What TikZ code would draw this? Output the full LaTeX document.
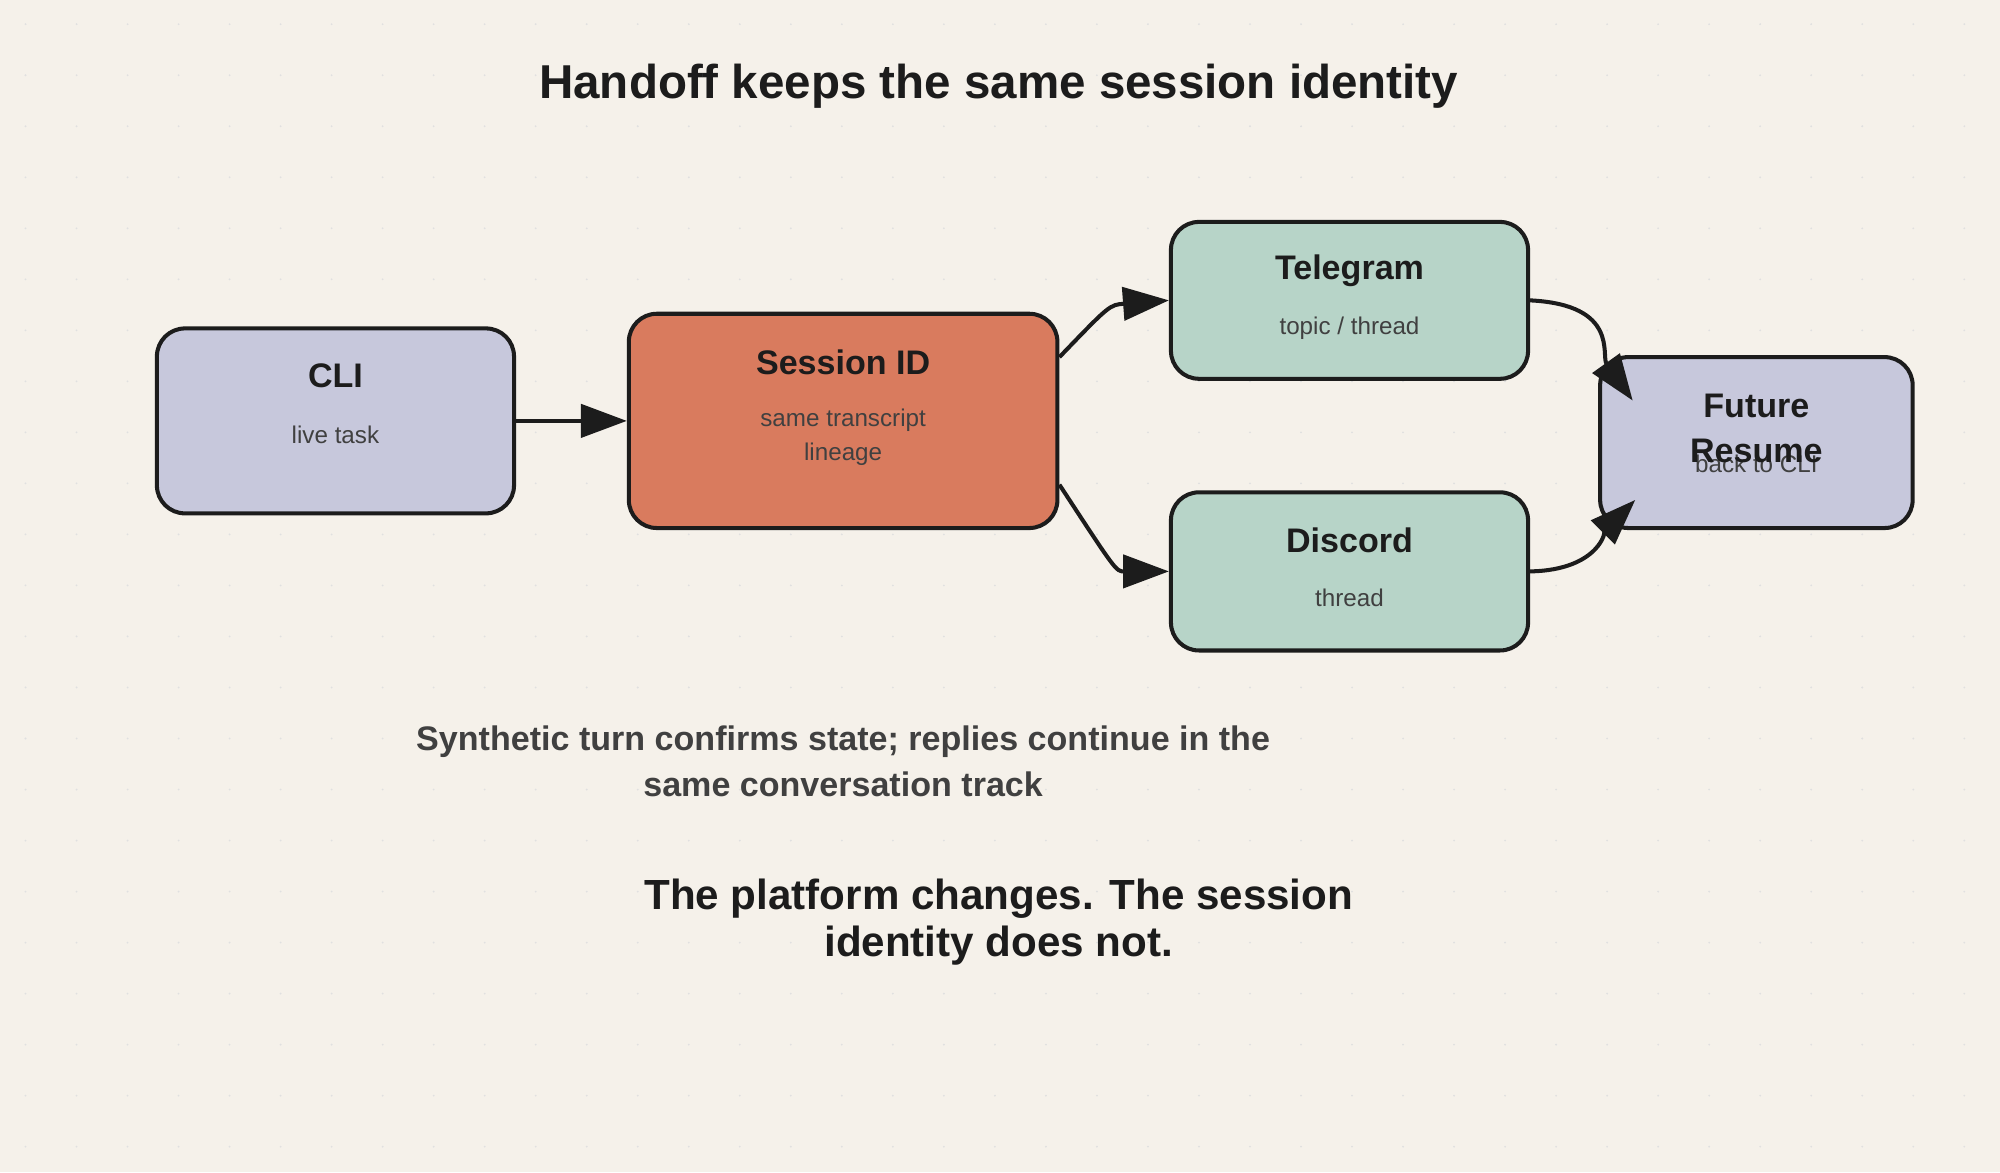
\documentclass[tikz,border=0pt]{standalone}
\usepackage{fontspec}
\setmainfont{Liberation Sans}
\usetikzlibrary{arrows.meta}
\definecolor{paper}{HTML}{F5F1EA}
\definecolor{ink}{HTML}{1C1C1C}
\definecolor{lilac}{HTML}{C7C8DC}
\definecolor{coral}{HTML}{D97B5E}
\definecolor{sage}{HTML}{B7D4C8}
\definecolor{muted}{HTML}{404040}
\tikzset{
    box/.style={draw=ink, line width=0.9pt, rounded corners=0.22cm},
    ttl/.style={font=\bfseries\fontsize{7.6}{10}\selectfont, text=ink},
    sub/.style={font=\fontsize{5.4}{7.6}\selectfont, text=muted, align=center},
    flow/.style={draw=ink, line width=0.9pt, -{Triangle[length=0.36cm, width=0.26cm]}},
}
\begin{document}
\begin{tikzpicture}
    % canvas
    \fill[paper] (0,0) rectangle (15.68,9.19);
    \useasboundingbox (0,0) rectangle (15.68,9.19);
    \foreach \i in {0,...,39} {
        \foreach \j in {0,...,23} {
            \fill[black!12] ({0.2+0.4*\i},{0.2+0.4*\j}) circle (0.008);
        }
    }

    \node[font=\bfseries\fontsize{10.6}{12}\selectfont, text=ink] (title) at (7.83,8.51) {Handoff keeps the same session identity};

    % boxes
    \node[box, fill=lilac, minimum width=2.80cm, minimum height=1.45cm] (cli) at (2.63,5.89) {};
    \node[box, fill=coral, minimum width=3.36cm, minimum height=1.68cm] (sid) at (6.61,5.89) {};
    \node[box, fill=sage, minimum width=2.80cm, minimum height=1.23cm] (tg) at (10.58,6.835) {};
    \node[box, fill=sage, minimum width=2.80cm, minimum height=1.24cm] (dc) at (10.58,4.71) {};
    \node[box, fill=lilac, minimum width=2.45cm, minimum height=1.34cm] (fut) at (13.77,5.72) {};

    % labels
    \node[ttl] (clit) at (2.63,6.24) {CLI};
    \node[sub] (clis) at (2.63,5.78) {live task};
    \node[ttl] (sidt) at (6.61,6.35) {Session ID};
    \node[sub] (sids) at (6.61,5.76) {same transcript\\lineage};
    \node[ttl] (tgt) at (10.58,7.07) {Telegram};
    \node[sub] (tgs) at (10.58,6.62) {topic / thread};
    \node[ttl] (dct) at (10.58,4.95) {Discord};
    \node[sub] (dcs) at (10.58,4.50) {thread};
    \node[sub] (futs) at (13.77,5.55) {back to CLI};
    \node[ttl, align=center] (futt) at (13.77,5.83) {Future\\Resume};

    % connectors
    \draw[flow] (cli.east) -- (sid.west);
    \draw[flow] (sid.east |- 0,6.39) .. controls (8.70,6.80) .. (tg.west);
    \draw[flow] (sid.east |- 0,5.39) .. controls (8.75,4.71) .. (dc.west);
    \draw[flow] (tg.east) .. controls (12.70,6.80) and (12.55,6.40) .. (12.80,6.05);
    \draw[flow] (dc.east) .. controls (12.55,4.72) and (12.60,5.05) .. (12.82,5.27);

    % notes
    \node[font=\bfseries\fontsize{7.6}{10.2}\selectfont, text=muted, align=center] (note) at (6.61,3.22) {Synthetic turn confirms state; replies continue in the\\same conversation track};
    \node[font=\bfseries\fontsize{9.4}{10.6}\selectfont, text=ink, align=center] (moral) at (7.83,1.96) {The platform changes. The session\\identity does not.};
\end{tikzpicture}
\end{document}
